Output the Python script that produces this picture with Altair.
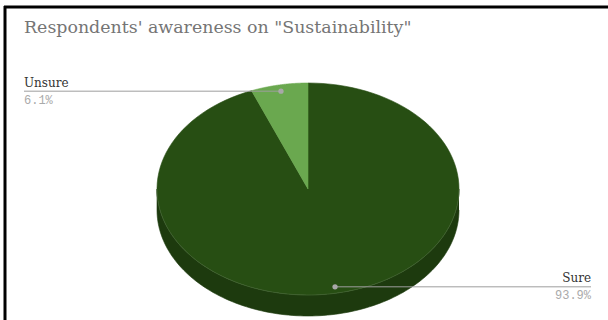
import altair as alt
import pandas as pd

# ---- data ----
labels = ["Sure", "Unsure"]
values = [93.9, 6.1]
colors = ["#274e13", "#6aa84f"]
side_colors = ["#1d3a0e", "#4f7f3b"]
title_text = 'Respondents\' awareness on "Sustainability"'

# ---- layout (pixels) ----
W, H = 608, 320
CX, CY, RX, RY, DEPTH = 308, 189, 151, 106, 21
LEFT_X, RIGHT_X = 24, 591
DOT_F = 0.94
N = 120

df = pd.DataFrame({"label": labels, "value": values, "color": colors, "side": side_colors})

xs = alt.Scale(domain=[0, W], nice=False, zero=False)
ys = alt.Scale(domain=[0, H], nice=False, zero=False, reverse=True)

base = (
    alt.Chart(df)
    .transform_joinaggregate(total="sum(value)")
    .transform_window(cum="sum(value)", frame=[None, 0])
    .transform_calculate(
        a1="datum.cum / datum.total * 2 * PI",
        a0="(datum.cum - datum.value) / datum.total * 2 * PI",
    )
    .transform_calculate(mid="(datum.a0 + datum.a1) / 2")
)

# top face of each slice
top = (
    base.transform_calculate(seq=f"sequence(0, {N + 3})")
    .transform_flatten(["seq"], as_=["i"])
    .transform_calculate(t=f"datum.a0 + (datum.a1 - datum.a0) * clamp(datum.i - 1, 0, {N}) / {N}")
    .transform_calculate(
        px=f"(datum.i == 0 || datum.i == {N + 2}) ? {CX} : {CX} + {RX} * sin(datum.t)",
        py=f"(datum.i == 0 || datum.i == {N + 2}) ? {CY} : {CY} - {RY} * cos(datum.t)",
    )
    .mark_line(strokeWidth=0.6, interpolate="linear")
    .encode(
        x=alt.X("px:Q", scale=xs, axis=None),
        y=alt.Y("py:Q", scale=ys, axis=None),
        order="i:Q",
        fill=alt.Fill("color:N", scale=None),
        stroke=alt.Stroke("color:N", scale=None),
        detail="label:N",
    )
)

# visible side (front half) of each slice
side_base = (
    base.transform_calculate(s0="max(datum.a0, PI / 2)", s1="min(datum.a1, 3 * PI / 2)")
    .transform_filter("datum.s1 > datum.s0")
    .transform_calculate(seq=f"sequence(0, {2 * (N + 1)})")
    .transform_flatten(["seq"], as_=["i"])
    .transform_calculate(j=f"datum.i <= {N} ? datum.i : {2 * N + 1} - datum.i")
    .transform_calculate(t=f"datum.s0 + (datum.s1 - datum.s0) * datum.j / {N}")
    .transform_calculate(
        px=f"{CX} + {RX} * sin(datum.t)",
        py=f"{CY} - {RY} * cos(datum.t) + (datum.i > {N} ? {DEPTH} : 0)",
    )
)
side = side_base.mark_line(strokeWidth=0.6).encode(
    x=alt.X("px:Q", scale=xs, axis=None),
    y=alt.Y("py:Q", scale=ys, axis=None),
    order="i:Q",
    fill=alt.Fill("side:N", scale=None),
    stroke=alt.Stroke("side:N", scale=None),
    detail="label:N",
)
rim = side_base.transform_filter(f"datum.i <= {N}").mark_line(
    strokeWidth=0.8, color="#4d6b3e", opacity=0.7
).encode(
    x=alt.X("px:Q", scale=xs, axis=None),
    y=alt.Y("py:Q", scale=ys, axis=None),
    order="i:Q",
    detail="label:N",
)

# leader lines and labels
lead = base.transform_calculate(
    dx=f"{CX} + {RX} * {DOT_F} * sin(datum.mid)",
    dy=f"{CY} - {RY} * {DOT_F} * cos(datum.mid)",
    sidepos="sin(datum.mid) < 0 ? 'left' : 'right'",
    pct="format(datum.value / datum.total, '.1%')",
).transform_calculate(lx=f"datum.sidepos == 'left' ? {LEFT_X} : {RIGHT_X}")

rule = lead.mark_rule(color="#9e9e9e", strokeWidth=1).encode(
    x=alt.X("dx:Q", scale=xs, axis=None),
    x2="lx:Q",
    y=alt.Y("dy:Q", scale=ys, axis=None),
)
dot = lead.mark_circle(size=28, color="#a8a8a8", opacity=1).encode(
    x=alt.X("dx:Q", scale=xs, axis=None),
    y=alt.Y("dy:Q", scale=ys, axis=None),
)

def label_layers(sidepos, align):
    d = lead.transform_filter(f"datum.sidepos == '{sidepos}'")
    name = d.mark_text(
        align=align, baseline="alphabetic", dy=-4.5, font="DejaVu Serif", fontSize=12, color="#333333"
    ).encode(x=alt.X("lx:Q", scale=xs, axis=None), y=alt.Y("dy:Q", scale=ys, axis=None), text="label:N")
    pct = d.mark_text(
        align=align, baseline="alphabetic", dy=12.5, font="Liberation Mono", fontSize=12, color="#aaaaaa"
    ).encode(x=alt.X("lx:Q", scale=xs, axis=None), y=alt.Y("dy:Q", scale=ys, axis=None), text="pct:N")
    return [name, pct]

one = alt.Chart(df).transform_aggregate(n="count()")
title = one.mark_text(
    text=title_text, align="left", baseline="alphabetic", font="DejaVu Serif", fontSize=17.4, color="#757575"
).encode(x=alt.value(24), y=alt.value(33))
border_top = one.mark_rule(color="#000000", strokeWidth=3).encode(
    x=alt.value(4), x2=alt.value(W), y=alt.value(7)
)
border_left = one.mark_rule(color="#000000", strokeWidth=3).encode(
    x=alt.value(5), y=alt.value(6), y2=alt.value(H)
)

chart = alt.layer(
    side, top, rim, rule, dot,
    *label_layers("left", "left"), *label_layers("right", "right"),
    title, border_top, border_left,
).properties(
    width=W, height=H, padding=0, autosize=alt.AutoSizeParams(type="none"), background="#ffffff"
).configure_view(stroke=None)

chart.save("out.html", embed_options={"renderer": "svg", "actions": False})
